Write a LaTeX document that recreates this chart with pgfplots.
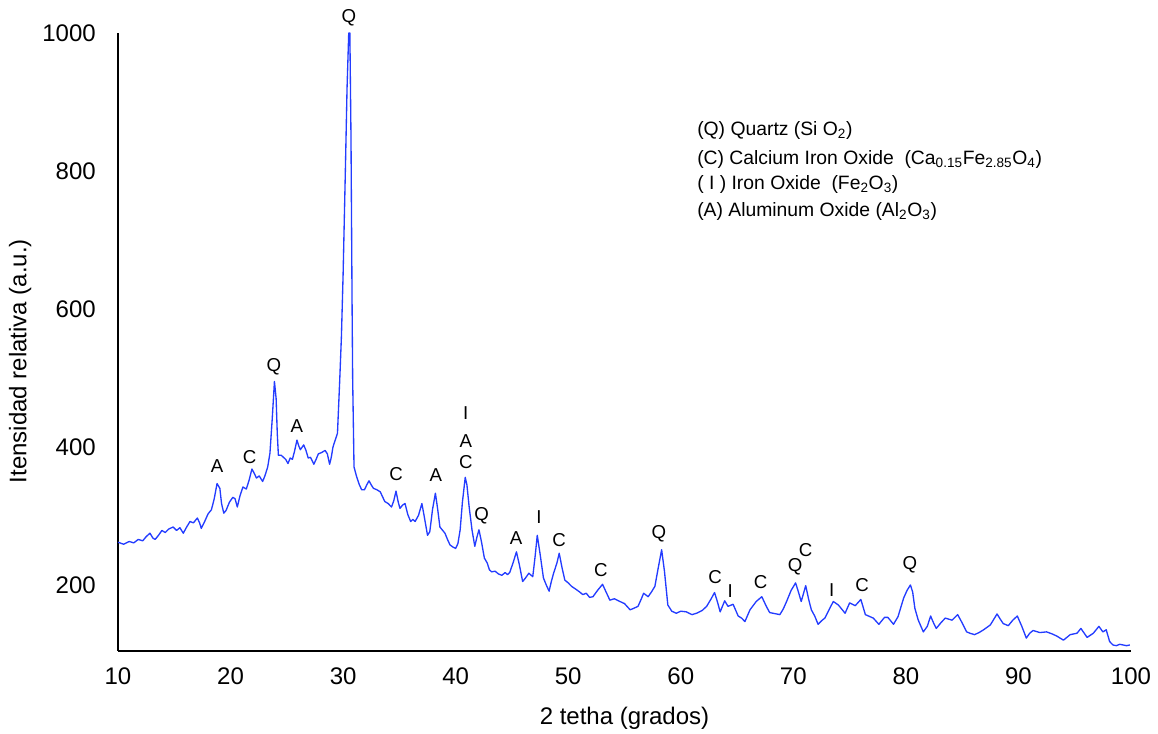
\documentclass[border=0pt]{standalone}
\usepackage{fontspec}
\setmainfont{Liberation Sans}
\usepackage{pgfplots}
\pgfplotsset{compat=1.18}
\definecolor{xrdblue}{RGB}{35,60,255}
\begin{document}
\begin{tikzpicture}
\begin{axis}[
  at={(0,0)}, anchor=south west,
  scale only axis, width=759.75pt, height=463.5pt,
  xmin=10, xmax=100, ymin=104.3, ymax=1000,
  axis x line=bottom, axis y line=left,
  axis line style={-, line width=1.3pt, black},
  xtick={10,20,...,100}, ytick={200,400,...,1000},
  major tick length=0pt,
  /pgf/number format/assume math mode=true,
  /pgf/number format/1000 sep={},
  tick label style={font=\fontsize{18}{20}\selectfont, inner sep=0pt},
  yticklabel style={xshift=-16.5pt},
  xticklabel style={yshift=-12.5pt},
  xlabel={2 tetha (grados)},
  ylabel={Itensidad relativa (a.u.)},
  label style={font=\fontsize{18}{20}\selectfont},
  xlabel style={at={(axis description cs:0.5,-0.1084)}, anchor=center},
  ylabel style={at={(axis description cs:-0.0967,0.469)}, anchor=center},
  clip=false,
]
\addplot[color=xrdblue, line width=1pt, line join=round, mark=none] coordinates {
(10.0,262)(10.5,259)(11.0,263)(11.4,261)(11.8,266)(12.2,264)(12.5,270)(12.84,275)
(13.1,268)(13.3,266)(13.6,272)(13.9,279)(14.2,276)(14.5,281)(14.9,284)(15.2,279)
(15.5,283)(15.8,275)(16.1,284)(16.4,292)(16.7,290)(17.05,297)(17.25,290)(17.4,282)
(17.7,292)(18.0,303)(18.3,309)(18.55,325)(18.8,347)(19.05,340)(19.2,318)(19.4,304)
(19.6,308)(19.9,320)(20.2,327)(20.4,325)(20.6,313)(20.85,330)(21.1,342)(21.4,339)
(21.65,352)(21.9,368)(22.1,362)(22.3,355)(22.55,358)(22.85,350)(23.05,358)(23.3,371)
(23.5,391)(23.7,440)(23.9,495)(24.05,470)(24.15,420)(24.25,388)(24.5,388)(24.7,385)
(24.9,382)(25.1,376)(25.3,384)(25.5,382)(25.7,395)(25.9,410)(26.05,402)(26.2,396)
(26.5,403)(26.7,395)(26.9,384)(27.1,385)(27.4,375)(27.6,382)(27.8,390)(28.1,392)
(28.4,395)(28.6,390)(28.8,375)(28.95,385)(29.1,400)(29.3,410)(29.5,420)(29.7,497)
(29.85,560)(30.0,650)(30.2,800)(30.35,920)(30.5,1000)(30.6,1000)(30.7,850)(30.8,600)
(30.85,497)(30.97,371)(31.2,357)(31.45,345)(31.65,338)(31.9,338)(32.1,345)(32.3,351)
(32.5,345)(32.7,340)(33.0,338)(33.3,335)(33.5,328)(33.7,321)(34.0,318)(34.3,313)
(34.5,322)(34.7,336)(34.9,320)(35.05,311)(35.3,316)(35.5,318)(35.75,302)(36.0,292)
(36.2,295)(36.4,292)(36.7,301)(37.0,318)(37.2,300)(37.5,272)(37.7,277)(37.95,310)
(38.2,333)(38.4,310)(38.6,284)(38.8,280)(39.05,275)(39.3,265)(39.5,258)(39.75,255)
(40.0,253)(40.2,260)(40.4,280)(40.6,320)(40.85,356)(41.0,345)(41.2,313)(41.45,280)
(41.7,256)(41.9,270)(42.07,280)(42.3,262)(42.55,239)(42.8,232)(43.0,222)(43.2,219)
(43.5,220)(43.8,216)(44.1,214)(44.4,218)(44.6,215)(44.8,218)(45.1,232)(45.4,248)
(45.65,230)(45.95,205)(46.2,210)(46.5,217)(46.85,212)(47.05,240)(47.25,272)(47.5,245)
(47.8,210)(48.05,200)(48.3,191)(48.5,205)(48.7,217)(49.0,232)(49.2,246)(49.45,225)
(49.7,207)(50.0,203)(50.3,198)(50.75,193)(51.0,190)(51.3,186)(51.6,188)(51.9,182)
(52.2,183)(52.6,192)(53.05,201)(53.3,192)(53.7,178)(54.1,180)(54.6,176)(55.0,173)
(55.5,164)(55.8,166)(56.2,169)(56.5,180)(56.7,188)(57.1,183)(57.4,190)(57.7,198)
(58.0,225)(58.3,251)(58.55,220)(58.85,171)(59.2,162)(59.6,159)(60.0,162)(60.5,161)
(61.0,157)(61.4,159)(61.9,163)(62.3,169)(62.7,180)(63.0,189)(63.25,176)(63.5,161)
(63.9,177)(64.2,169)(64.65,172)(65.1,155)(65.4,152)(65.7,147)(66.15,164)(66.7,176)
(67.2,183)(67.6,169)(67.9,160)(68.2,159)(68.8,157)(69.1,165)(69.4,176)(69.8,192)
(70.2,203)(70.45,190)(70.7,176)(71.1,199)(71.35,180)(71.6,164)(71.9,155)(72.2,143)
(72.5,148)(72.8,152)(73.2,165)(73.55,176)(74.0,171)(74.3,165)(74.6,159)(75.0,174)
(75.5,170)(76.0,179)(76.2,168)(76.4,157)(77.1,152)(77.6,143)(78.1,153)(78.4,153)
(78.9,143)(79.3,154)(79.8,181)(80.1,192)(80.4,200)(80.6,190)(80.8,166)(81.1,149)
(81.55,132)(81.9,140)(82.2,155)(82.4,147)(82.7,137)(83.1,145)(83.5,152)(84.1,149)
(84.6,157)(85.0,145)(85.4,132)(85.7,130)(86.1,128)(86.5,131)(86.9,135)(87.5,142)
(88.1,158)(88.4,150)(88.65,144)(89.1,141)(89.5,149)(89.9,155)(90.3,140)(90.7,123)
(91.0,130)(91.3,134)(91.9,131)(92.5,132)(93.0,129)(93.4,126)(94.0,120)(94.6,128)
(95.2,130)(95.55,137)(96.1,124)(96.65,130)(97.15,140)(97.5,132)(97.8,135)(98.1,118)
(98.4,113)(98.7,112)(99.0,114)(99.3,113)(99.6,112)(99.9,113)
};
% peak labels
\begin{scope}[every node/.style={font=\fontsize{14}{16}\selectfont, inner sep=0pt, anchor=center}]
\node at (axis cs:30.52,1021.7) {Q};
\node at (axis cs:18.8,372) {A};
\node at (axis cs:21.7,385) {C};
\node at (axis cs:23.86,516) {Q};
\node at (axis cs:25.9,430) {A};
\node at (axis cs:34.7,361) {C};
\node at (axis cs:38.25,359) {A};
\node at (axis cs:40.9,449) {I};
\node at (axis cs:40.9,409) {A};
\node at (axis cs:40.9,378) {C};
\node at (axis cs:42.3,301) {Q};
\node at (axis cs:45.36,268) {A};
\node at (axis cs:47.4,299) {I};
\node at (axis cs:49.2,265) {C};
\node at (axis cs:52.9,222) {C};
\node at (axis cs:58.06,274) {Q};
\node at (axis cs:63.04,212) {C};
\node at (axis cs:64.4,191) {I};
\node at (axis cs:67.1,204) {C};
\node at (axis cs:70.15,226) {Q};
\node at (axis cs:71.1,251) {C};
\node at (axis cs:73.4,193) {I};
\node at (axis cs:76.1,200) {C};
\node at (axis cs:80.36,229) {Q};
\end{scope}
% legend text
\begin{scope}[every node/.style={font=\fontsize{14.5}{16}\selectfont, inner sep=0pt, anchor=west}]
\node at (axis cs:61.44,858) {(Q) Quartz (Si O\textsubscript{2})};
\node at (axis cs:61.44,817) {(C) Calcium Iron Oxide\ \ (Ca\textsubscript{0.15}Fe\textsubscript{2.85}O\textsubscript{4})};
\node at (axis cs:61.44,780) {( I ) Iron Oxide\ \ (Fe\textsubscript{2}O\textsubscript{3})};
\node at (axis cs:61.44,741) {(A) Aluminum Oxide (Al\textsubscript{2}O\textsubscript{3})};
\end{scope}
\end{axis}
\pgfresetboundingbox
\path[use as bounding box] (-88.5pt,-62.25pt) rectangle (780pt,488.25pt);
\end{tikzpicture}
\end{document}
